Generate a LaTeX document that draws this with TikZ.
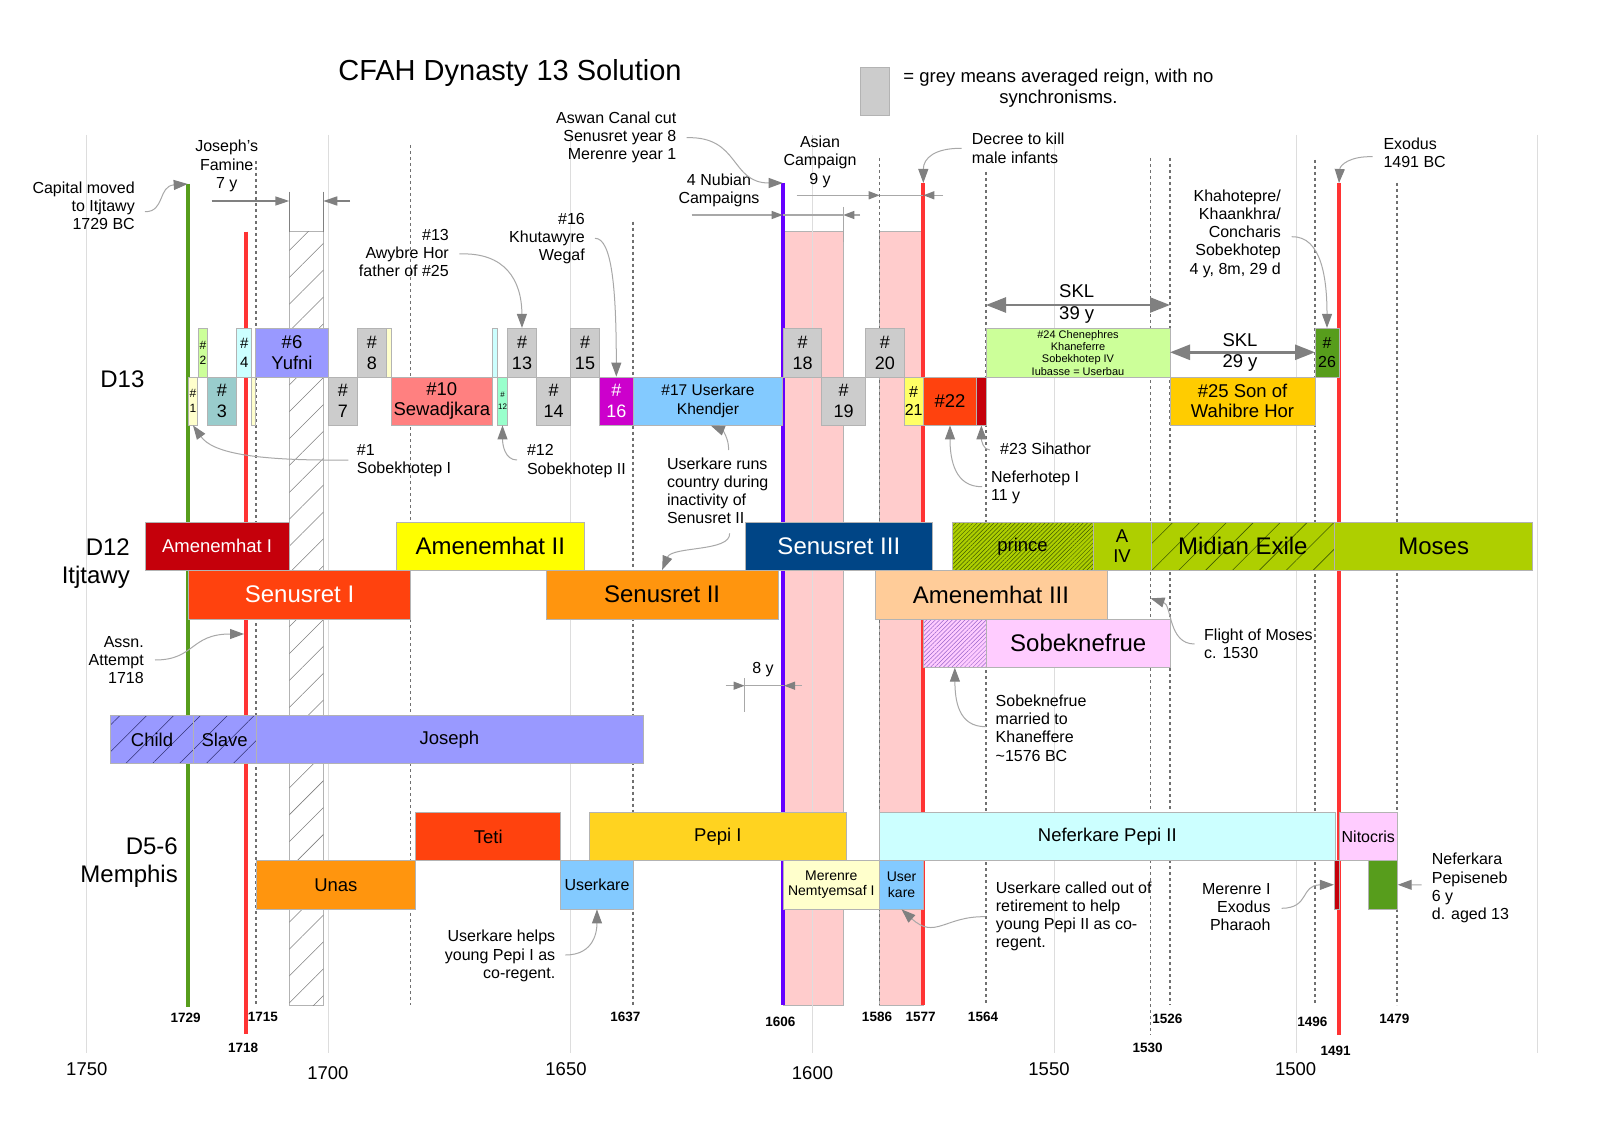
\documentclass[tikz,border=0pt]{standalone}
\usepackage{fontspec}
\setmainfont{Liberation Sans}
\usetikzlibrary{arrows.meta,patterns.meta}
\definecolor{cGrid}{HTML}{DDDDDD}
\definecolor{cDot}{HTML}{707070}
\definecolor{cArr}{HTML}{808080}
\definecolor{cConn}{HTML}{A8A8A8}
\definecolor{cBord}{HTML}{B3B3B3}
\definecolor{cGrey}{HTML}{CCCCCC}
\definecolor{cLtYel}{HTML}{FFFFCC}
\definecolor{cLtGrn}{HTML}{CCFF99}
\definecolor{cTeal}{HTML}{99CCCC}
\definecolor{cLtCyan}{HTML}{CCFFFF}
\definecolor{cLav}{HTML}{9999FF}
\definecolor{cSalmon}{HTML}{FF8080}
\definecolor{cMint}{HTML}{99FFCC}
\definecolor{cMag}{HTML}{CC00CC}
\definecolor{cSky}{HTML}{83CAFF}
\definecolor{cYel}{HTML}{FFFF66}
\definecolor{cRedOr}{HTML}{FF420E}
\definecolor{cDkRed}{HTML}{C5000B}
\definecolor{cAmber}{HTML}{FFCC00}
\definecolor{cGreen}{HTML}{579D1C}
\definecolor{cYellow}{HTML}{FFFF00}
\definecolor{cNavy}{HTML}{004586}
\definecolor{cLime}{HTML}{AECF00}
\definecolor{cOrange}{HTML}{FF950E}
\definecolor{cPeach}{HTML}{FFCC99}
\definecolor{cPink}{HTML}{FFCCFF}
\definecolor{cBand}{HTML}{FFCCCC}
\definecolor{cGold}{HTML}{FFD320}
\definecolor{cRed}{HTML}{FF3333}
\definecolor{cPurple}{HTML}{6600FF}
\definecolor{cHatchG}{HTML}{3F5A00}
\definecolor{cHatchP}{HTML}{9966CC}
\definecolor{cHatchB}{HTML}{333377}
\newcommand\fsTitle{\fontsize{29}{33}\selectfont}
\newcommand\fsRow{\fontsize{24}{28}\selectfont}
\newcommand\fsBig{\fontsize{24}{27}\selectfont}
\newcommand\fsMed{\fontsize{18.5}{20.5}\selectfont}
\newcommand\fsGr{\fontsize{18}{21}\selectfont}
\newcommand\fsAnn{\fontsize{16}{18.2}\selectfont}
\newcommand\fsLeg{\fontsize{18.5}{20.5}\selectfont}
\newcommand\fsYr{\fontsize{13.5}{15}\selectfont\bfseries}
\newcommand\fsAx{\fontsize{18.5}{20}\selectfont}
\newcommand\fsSm{\fontsize{11}{12.3}\selectfont}
\newcommand\fsTn{\fontsize{12}{15}\selectfont}
\newcommand\fsMer{\fontsize{14}{15.4}\selectfont}
\newcommand\bx[7]{\node[box,#6,minimum width={(#4)-(#2)},minimum height={(#5)-(#3)}] (#1) at ({((#2)+(#4))/2},{((#3)+(#5))/2}) {#7};}
\begin{document}
\begin{tikzpicture}[x=1pt,y=-1pt,
  box/.style={draw=cBord,line width=0.8pt,inner sep=0pt,align=center,font=\fsMed},
  greybox/.style={fill=cGrey,font=\fsGr},
  grid/.style={draw=cGrid,line width=1pt},
  dotline/.style={draw=cDot,line width=1.3pt,dash pattern=on 3pt off 3pt},
  vline/.style={line width=4pt},
  conn/.style={draw=cConn,line width=1pt,-{Triangle[length=14pt,width=10pt,color=cArr]}},
  dim/.style={draw=cArr,line width=1.5pt,-{Triangle[length=14pt,width=9pt,color=cArr]}},
  dimL/.style={draw=cConn,line width=1.2pt,-{Triangle[length=11pt,width=8pt,color=cArr]}},
  thinL/.style={draw=cConn,line width=1.2pt},
  skl/.style={draw=cArr,line width=2.5pt,{Triangle[length=20pt,width=15pt,color=cArr]}-{Triangle[length=20pt,width=15pt,color=cArr]}},
  ann/.style={font=\fsAnn,inner sep=0pt},
  yr/.style={font=\fsYr,inner sep=0pt},
  ax/.style={font=\fsAx,inner sep=0pt},
  sparse/.style={pattern={Lines[angle=45,distance=19pt,line width=0.55pt]}},
  dense/.style={pattern={Lines[angle=45,distance=3pt,line width=0.5pt]}}]
\useasboundingbox (0,0) rectangle (1600,1131);
\fill[white] (0,0) rectangle (1600,1131);

% background bands
\bx{band1}{783}{231.7}{843.3}{1005}{fill=cBand}{}
\bx{band2}{879.7}{231.7}{923.3}{1005}{fill=cBand}{}
\bx{famine}{289.3}{231.7}{323.3}{1005}{fill=white,line width=1pt}{}
\fill[sparse,pattern color=cArr] (289.3,231.7) rectangle (323.3,1005);

% grid lines
\foreach \gx in {86.8,328,570.5,812.5,1054,1296,1537.3} \draw[grid] (\gx,135) -- (\gx,1053);
% dotted lines
\foreach \dx/\dt/\db in {256/161/1005, 410.7/145/1005, 633/221.7/1005, 879.7/158/1005, 986/172/1005, 1150.5/158/1035, 1170/158/1005, 1315/160/1005, 1397/183/1005}
  \draw[dotline] (\dx,\dt) -- (\dx,\db);

% coloured event lines
\coordinate (gTop) at (187.7,184); \coordinate (gBot) at (187.7,1007);
\coordinate (rATop) at (246,231.7); \coordinate (rABot) at (246,1034);
\coordinate (pTop) at (782.7,183); \coordinate (pBot) at (782.7,1005);
\coordinate (rBTop) at (923.3,183); \coordinate (rBBot) at (923.3,1005);
\coordinate (rCTop) at (1339,183); \coordinate (rCBot) at (1339,1035);
\draw[vline,cGreen] (gTop) -- (gBot);
\draw[vline,cRed] (rATop) -- (rABot);
\draw[vline,cPurple] (pTop) -- (pBot);
\draw[vline,cRed] (rBTop) -- (rBBot);
\draw[vline,cRed] (rCTop) -- (rCBot);

% title and legend
\node[font=\fsTitle,inner sep=0pt] (title) at (510,73.5) {CFAH Dynasty 13 Solution};
\bx{leg}{860}{67}{889}{115}{fill=cGrey}{}
\node[font=\fsLeg,inner sep=0pt,align=center] (legt) at (1058.5,88) {= grey means averaged reign, with no\\synchronisms.};

% row labels
\node[font=\fsRow,inner sep=0pt] (rD13) at (122.4,379.6) {D13};
\node[font=\fsRow,inner sep=0pt,anchor=east,align=right] (rD12) at (130,564) {D12\\Itjtawy};
\node[font=\fsRow,inner sep=0pt,anchor=east,align=right] (rD5) at (178,862.7) {D5-6\\Memphis};

% D13 boxes
\bx{b1}{188.3}{377}{197.7}{425}{fill=cLtYel,font=\fsTn}{\#\\1}
\bx{b2}{198}{328.3}{207.7}{377}{fill=cLtGrn,font=\fsTn}{\#\\2}
\bx{b3}{207.3}{377}{236.7}{425}{fill=cTeal,font=\fsGr}{\#\\3}
\bx{b4}{236.7}{328.3}{251.7}{377}{fill=cLtCyan,font=\fontsize{15}{19}\selectfont}{\#\\4}
\bx{b5}{251}{377}{255.7}{425}{fill=cLtYel}{}
\bx{b6}{255.7}{328.3}{328.3}{377}{fill=cLav}{\#6\\Yufni}
\bx{b7}{328.3}{377}{357.3}{425}{greybox}{\#\\7}
\bx{b8}{357.3}{328.3}{386.7}{377}{greybox}{\#\\8}
\bx{b9}{386.7}{328.3}{391}{377}{fill=cLtYel}{}
\bx{b10}{391}{377}{492.7}{425}{fill=cSalmon}{\#10\\Sewadjkara}
\bx{b11}{492.7}{328.3}{497.7}{377}{fill=cLtCyan}{}
\bx{b12}{497.7}{377}{507.3}{425}{fill=cMint,font=\fontsize{8}{11.5}\selectfont}{\#\\12}
\bx{b13}{507.3}{328.3}{536.7}{377}{greybox}{\#\\13}
\bx{b14}{536.7}{377}{570.7}{425}{greybox}{\#\\14}
\bx{b15}{570.7}{328.3}{599.3}{377}{greybox}{\#\\15}
\bx{b16}{599.3}{377}{633.3}{425}{fill=cMag,text=white,font=\fsGr}{\#\\16}
\bx{b17}{633.3}{377}{782.7}{425}{fill=cSky,font=\fontsize{15.5}{18.3}\selectfont}{\#17 Userkare\\Khendjer}
\bx{b18}{783.3}{328.3}{821.7}{377}{greybox}{\#\\18}
\bx{b19}{821.7}{377}{865.7}{425}{greybox}{\#\\19}
\bx{b20}{865.7}{328.3}{904}{377}{greybox}{\#\\20}
\bx{b21}{904}{377}{923.3}{425}{fill=cYel,font=\fontsize{16}{18.3}\selectfont}{\#\\21}
\bx{b22}{923.3}{377}{976.7}{425}{fill=cRedOr}{\#22}
\bx{b23}{976.7}{377}{986}{425}{fill=cDkRed}{}
\bx{b24}{986}{328.3}{1170}{377}{fill=cLtGrn,font=\fsSm}{\#24 Chenephres\\Khaneferre\\Sobekhotep IV\\Iubasse = Userbau}
\bx{b25}{1170}{377}{1315}{425}{fill=cAmber}{\#25 Son of\\Wahibre Hor}
\bx{b26}{1315}{328.3}{1339}{377}{fill=cGreen,font=\fontsize{16}{18.3}\selectfont}{\#\\26}

% D12 boxes
\bx{am1}{145}{522.3}{289.3}{570.3}{fill=cDkRed,text=white}{Amenemhat I}
\bx{am2}{396}{522.3}{584.7}{570.3}{fill=cYellow,font=\fsBig}{Amenemhat II}
\bx{sen3}{745}{522.3}{932.7}{570.3}{fill=cNavy,text=white,font=\fsBig}{Senusret III}
\bx{prince}{952}{522.3}{1093}{570.3}{preaction={fill=cLime},dense,pattern color=cHatchG}{prince}
\bx{aiv}{1093}{522.3}{1151}{570.3}{fill=cLime}{A\\IV}
\bx{midian}{1151}{522.3}{1334.7}{570.3}{preaction={fill=cLime},sparse,pattern color=cHatchG,font=\fsBig}{Midian Exile}
\bx{moses}{1334.7}{522.3}{1532.7}{570.3}{fill=cLime,font=\fsBig}{Moses}
\bx{sen1}{188.3}{570.3}{410.7}{619}{fill=cRedOr,text=white,font=\fsBig}{Senusret I}
\bx{sen2}{546.4}{570.3}{777.9}{619}{fill=cOrange,font=\fsBig}{Senusret II}
\bx{am3}{875}{570.3}{1107}{619}{fill=cPeach,font=\fsBig}{Amenemhat III}
\bx{sbh}{923.2}{619}{986.4}{667.3}{preaction={fill=cPink},dense,pattern color=cHatchP}{}
\bx{sobek}{986.4}{619}{1170}{667.3}{fill=cPink,font=\fsBig}{Sobeknefrue}

% Joseph row
\bx{child}{110.7}{715.7}{193.3}{763.3}{preaction={fill=cLav},sparse,pattern color=cHatchB}{Child}
\bx{slave}{193.3}{715.7}{256}{763.3}{preaction={fill=cLav},sparse,pattern color=cHatchB}{Slave}
\bx{joseph}{256}{715.7}{642.9}{763.3}{fill=cLav}{Joseph}

% D5-6 boxes
\bx{teti}{415.7}{812.5}{560.7}{860.5}{fill=cRedOr}{Teti}
\bx{pepi1}{589.3}{812.5}{846.4}{860.5}{fill=cGold}{Pepi I}
\bx{pepi2}{879.6}{812.5}{1335}{860.5}{fill=cLtCyan}{Neferkare Pepi II}
\bx{nito}{1339.3}{812.5}{1397.3}{860.5}{fill=cPink,font=\fsAnn}{Nitocris}
\bx{unas}{256}{860.5}{415.7}{909}{fill=cOrange}{Unas}
\bx{uk1}{560.7}{860.5}{633.2}{909}{fill=cSky,font=\fsAnn}{Userkare}
\bx{mer}{782.9}{860.5}{879.6}{909}{fill=cLtYel,font=\fsMer}{Merenre\\Nemtyemsaf I}
\bx{uk2}{879.6}{860.5}{923.6}{909}{fill=cSky,font=\fsMer}{User\\kare}
\bx{dkr}{1334.3}{860.5}{1339.3}{909}{fill=cDkRed}{}
\bx{grn}{1368.3}{860.5}{1397.3}{909}{fill=cGreen}{}

% year markers
\node[yr] (y1729) at (185.7,1018) {1729};
\node[yr] (y1715) at (262.9,1017.3) {1715};
\node[yr] (y1718) at (243.2,1047.7) {1718};
\node[yr] (y1637) at (625.4,1017.3) {1637};
\node[yr] (y1606) at (780.4,1022.3) {1606};
\node[yr] (y1586) at (877,1017.3) {1586};
\node[yr] (y1577) at (920.7,1017.3) {1577};
\node[yr] (y1564) at (983,1017.3) {1564};
\node[yr] (y1530) at (1147.7,1047.7) {1530};
\node[yr] (y1526) at (1167.3,1019) {1526};
\node[yr] (y1496) at (1312.3,1022.3) {1496};
\node[yr] (y1491) at (1335.7,1051) {1491};
\node[yr] (y1479) at (1394.3,1019) {1479};
\node[ax] (x1750) at (86.8,1069.3) {1750};
\node[ax] (x1700) at (327.9,1072.7) {1700};
\node[ax] (x1650) at (566,1069.3) {1650};
\node[ax] (x1600) at (812.5,1072.7) {1600};
\node[ax] (x1550) at (1049,1069.3) {1550};
\node[ax] (x1500) at (1295.7,1069.3) {1500};

% annotation texts
\node[ann,anchor=east,align=right] (t1) at (135,205.7) {Capital moved\\to Itjtawy\\1729 BC};
\node[ann,align=center] (t2) at (226.7,166) {Joseph's\\Famine\\7 y};
\node[ann,anchor=east,align=right] (t3) at (449,253) {\#13\\Awybre Hor\\father of \#25};
\node[ann,anchor=east,align=right] (t4) at (585,238.3) {\#16\\Khutawyre\\Wegaf};
\node[ann,anchor=east,align=right] (t5) at (676.5,137.3) {Aswan Canal cut\\Senusret year 8\\Merenre year 1};
\node[ann,align=center] (t6) at (719,190) {4 Nubian\\Campaigns};
\node[ann,align=center] (t7) at (820,161.7) {Asian\\Campaign\\9 y};
\node[ann,anchor=west,align=left] (t8) at (971.7,148.3) {Decree to kill\\male infants};
\node[inner sep=0pt,align=center,font=\fontsize{18.5}{21.7}\selectfont] (t9) at (1076.7,304) {SKL\\39 y};
\node[inner sep=0pt,align=center,font=\fontsize{18.5}{21.7}\selectfont] (t10) at (1240,352.5) {SKL\\29 y};
\node[ann,anchor=east,align=right] (t11) at (1281,233.5) {Khahotepre/\\Khaankhra/\\Concharis\\Sobekhotep\\4 y, 8m, 29 d};
\node[ann,anchor=west,align=left] (t12) at (1383.3,153) {Exodus\\1491 BC};
\node[ann,anchor=west,align=left] (t14) at (356.7,461) {\#1\\Sobekhotep I};
\node[ann,anchor=west,align=left] (t15) at (526.8,461) {\#12\\Sobekhotep II};
\node[ann,anchor=west,align=left] (t16) at (666.8,490.7) {Userkare runs\\country during\\inactivity of\\Senusret II};
\node[ann,anchor=west,align=left] (t17) at (1000,449) {\#23 Sihathor};
\node[ann,anchor=west,align=left] (t18) at (990.9,487) {Neferhotep I\\11 y};
\node[ann,anchor=east,align=right] (t19) at (144,660) {Assn.\\Attempt\\1718};
\node[ann] (t20) at (763,670) {8 y};
\node[ann,anchor=west,align=left] (t21) at (1204,644) {Flight of Moses\\c. 1530};
\node[ann,anchor=west,align=left] (t22) at (995.5,728) {Sobeknefrue\\married to\\Khaneffere\\\textasciitilde1576 BC};
\node[ann,anchor=east,align=right] (t23) at (555.4,956) {Userkare helps\\young Pepi I as\\co-regent.};
\node[ann,anchor=west,align=left] (t24) at (995.7,916.3) {Userkare called out of\\retirement to help\\young Pepi II as co-\\regent.};
\node[ann,anchor=east,align=right] (t25) at (1270.7,907.3) {Merenre I\\Exodus\\Pharaoh};
\node[ann,anchor=west,align=left] (t26) at (1431.7,888) {Neferkara\\Pepiseneb\\6 y\\d. aged 13};

% connectors
\coordinate (c1s) at (145,211.7);
\draw[conn] (c1s) .. controls (165,212) and (158,186) .. (gTop);
\coordinate (c2s) at (459.3,254);
\draw[conn] (c2s) .. controls (505,252) and (521.7,280) .. (b13.north);
\coordinate (c3s) at (595,238.3);
\draw[conn] (c3s) .. controls (612,238) and (616.3,290) .. (b16.north);
\coordinate (c4s) at (686.7,137.7);
\draw[conn] (c4s) .. controls (740,136) and (730,183) .. (pTop);
\coordinate (c5s) at (961.7,148.3);
\draw[conn] (c5s) .. controls (935,148) and (923.3,158) .. (rBTop);
\coordinate (c6s) at (1291.7,236.7);
\draw[conn] (c6s) .. controls (1322,236) and (1327,280) .. (b26.north);
\coordinate (c7s) at (1372.7,156.7);
\draw[conn] (c7s) .. controls (1350,156) and (1340,165) .. (rCTop);
\coordinate (c8s) at (348.3,460);
\draw[conn] (c8s) .. controls (250,461) and (212,452) .. (b1.south);
\coordinate (c9s) at (517,460);
\draw[conn] (c9s) .. controls (505,460) and (502.5,445) .. (b12.south);
\coordinate (c10s) at (728.6,450);
\coordinate (c10e) at (710.7,425.5);
\draw[conn] (c10s) .. controls (729,438) and (722,430) .. (c10e);
\coordinate (c11s) at (729.6,533.3);
\draw[conn] (c11s) .. controls (731,552) and (672,546) .. (sen2.north);
\coordinate (c12s) at (155,660);
\coordinate (c12e) at (244,634);
\draw[conn] (c12s) .. controls (195,660) and (190,634) .. (c12e);
\coordinate (c13s) at (982,486.7);
\draw[conn] (c13s) .. controls (955,487) and (950,460) .. (b22.south);
\coordinate (c14s) at (989.8,450);
\draw[conn] (c14s) .. controls (983,450) and (981.4,440) .. (b23.south);
\coordinate (c15s) at (1194.5,644);
\coordinate (c15e) at (1150.5,598.3);
\draw[conn] (c15s) .. controls (1168,644) and (1172,605) .. (c15e);
\coordinate (c16s) at (986,726.7);
\draw[conn] (c16s) .. controls (958,727) and (955,700) .. (sbh.south);
\coordinate (c17s) at (565.4,955);
\draw[conn] (c17s) .. controls (595,955) and (597,930) .. (uk1.south);
\coordinate (c18s) at (985,916.7);
\draw[conn] (c18s) .. controls (945,916) and (935,940) .. (uk2.south);
\coordinate (c19s) at (1281.7,908.3);
\draw[conn] (c19s) .. controls (1310,908) and (1300,885) .. (dkr.west);
\coordinate (c20s) at (1421.7,884.8);
\draw[conn] (c20s) -- (grn.east);

% dimension lines
\coordinate (f1) at (211.7,201); \coordinate (f2) at (289.3,201);
\coordinate (f3) at (323.3,201); \coordinate (f4) at (350,201);
\draw[dim] (f1) -- (f2); \draw[dim] (f4) -- (f3);
\draw[draw=cArr,line width=1.5pt] (289.3,191.7) -- (289.3,231.7);
\draw[draw=cArr,line width=1.5pt] (323.3,191.7) -- (323.3,231.7);
\coordinate (n1) at (691.7,215); \coordinate (n2) at (782.7,215);
\coordinate (n3) at (843.3,215); \coordinate (n4) at (860,215);
\draw[dimL] (n1) -- (n2); \draw[dimL] (n4) -- (n3); \draw[thinL] (n2) -- (n3);
\draw[thinL] (843.3,207) -- (843.3,241.7);
\coordinate (a1) at (796.7,195.3); \coordinate (a2) at (879.7,195.3);
\coordinate (a3) at (923.3,195.3); \coordinate (a4) at (943,195.3);
\draw[dimL] (a1) -- (a2); \draw[dimL] (a4) -- (a3); \draw[thinL] (a2) -- (a3);
\coordinate (e1) at (725.7,685.7); \coordinate (e2) at (744.6,685.7);
\coordinate (e3) at (784,685.7); \coordinate (e4) at (801.8,685.7);
\draw[dimL] (e1) -- (e2); \draw[dimL] (e4) -- (e3); \draw[thinL] (e2) -- (e3);
\draw[thinL] (744.6,678) -- (744.6,711.7);
\coordinate (s39a) at (986,305); \coordinate (s39b) at (1170,305);
\draw[skl] (s39a) -- (s39b);
\coordinate (s29a) at (1170,352.3); \coordinate (s29b) at (1315,352.3);
\draw[skl] (s29a) -- (s29b);
\end{tikzpicture}
\end{document}
